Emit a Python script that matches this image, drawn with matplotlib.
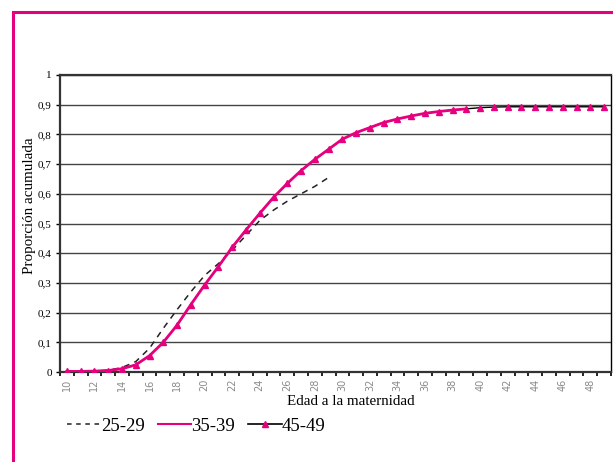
import matplotlib
matplotlib.use("Agg")
import matplotlib.pyplot as plt
from matplotlib.lines import Line2D
from matplotlib.patches import Rectangle
import numpy as np

# datos
edad = list(range(10, 50))
p25_29 = [0.000, 0.001, 0.003, 0.006, 0.015, 0.035, 0.080, 0.147, 0.210, 0.270,
          0.325, 0.365, 0.410, 0.460, 0.510, 0.545, 0.575, 0.600, 0.625, 0.655]
p35_39 = [0.002, 0.002, 0.003, 0.005, 0.011, 0.024, 0.055, 0.100, 0.158, 0.227,
          0.293, 0.355, 0.420, 0.478, 0.534, 0.588, 0.635, 0.678, 0.716, 0.750,
          0.784, 0.806, 0.823, 0.840, 0.852, 0.862, 0.871, 0.877, 0.882, 0.886]
p45_49 = [0.002, 0.002, 0.003, 0.005, 0.011, 0.024, 0.055, 0.100, 0.158, 0.227,
          0.293, 0.355, 0.420, 0.478, 0.534, 0.588, 0.635, 0.678, 0.716, 0.750,
          0.784, 0.806, 0.823, 0.840, 0.852, 0.862, 0.871, 0.877, 0.882, 0.886,
          0.890, 0.892, 0.893, 0.893, 0.893, 0.893, 0.893, 0.893, 0.893, 0.893]
etiquetas = ["25-29", "35-39", "45-49"]

rosa = "#E6007E"
serif = ["Liberation Serif", "DejaVu Serif"]

fig = plt.figure(figsize=(6.13, 4.62), dpi=100)

# marco rosa
fig.patches.append(Rectangle((13 / 613, -0.1), 1.1, 0.1 + 1 - 12 / 462,
                             transform=fig.transFigure, fill=False,
                             edgecolor=rosa, linewidth=2.2, clip_on=False))

ax = fig.add_axes([60 / 613, 1 - 372 / 462, 551 / 613, 297 / 462])

x25 = edad[:len(p25_29)]
x35 = edad[:len(p35_39)]
ax.plot(edad, p45_49, color="black", lw=1.0, zorder=3)
ax.plot(x25, p25_29, color="#222222", lw=1.1, ls=(0, (4, 3.5)), zorder=4)
ax.plot(x35, p35_39, color=rosa, lw=2.0, zorder=5)
ax.plot(edad, p45_49, ls="none", marker="^", ms=5, color=rosa, zorder=6)

ax.set_xlim(9.5, 49.5)
ax.set_ylim(0, 1)

ax.set_yticks(np.arange(0, 1.01, 0.1))
ax.set_yticklabels(["0", "0,1", "0,2", "0,3", "0,4", "0,5", "0,6", "0,7", "0,8", "0,9", "1"],
                   family=serif, fontsize=8)
ax.yaxis.grid(True, color="#444444", lw=1.0)
ax.set_axisbelow(True)

ax.set_xticks(edad[::2])
ax.set_xticklabels([str(e) for e in edad[::2]], rotation=90, fontsize=7,
                   color="#8a8a8a")
ax.set_xticks(np.arange(9.5, 50, 1), minor=True)
ax.tick_params(axis="x", which="major", length=0, pad=5)
ax.tick_params(axis="x", which="minor", length=3, width=1.2, direction="out")
ax.tick_params(axis="y", length=3, width=1.0, pad=3)

for s in ["top", "left", "bottom"]:
    ax.spines[s].set_linewidth(1.6)
    ax.spines[s].set_color("#333333")
ax.spines["right"].set_linewidth(1.0)

ax.set_ylabel("Proporción acumulada", family=serif, fontsize=10.8)
ax.yaxis.set_label_coords(-24 / 551, (372 - 206) / 297)
ax.set_xlabel("Edad a la maternidad", family=serif, fontsize=10.8)
ax.xaxis.set_label_coords((351 - 60) / 551, -23 / 297)

handles = [Line2D([], [], color="#222222", lw=1.1, ls=(0, (3, 3))),
           Line2D([], [], color=rosa, lw=1.5),
           Line2D([], [], color="black", lw=1.2, marker="^", ms=4,
                  markerfacecolor=rosa, markeredgecolor=rosa)]
fig.legend(handles, etiquetas, loc="center left",
           bbox_to_anchor=(52 / 613, 1 - 426 / 462),
           ncol=3, frameon=False, prop={"family": serif, "size": 13.5},
           handlelength=1.8, handletextpad=0.0, columnspacing=0.7,
           borderpad=0.3)

fig.savefig("out.png", dpi=100)
